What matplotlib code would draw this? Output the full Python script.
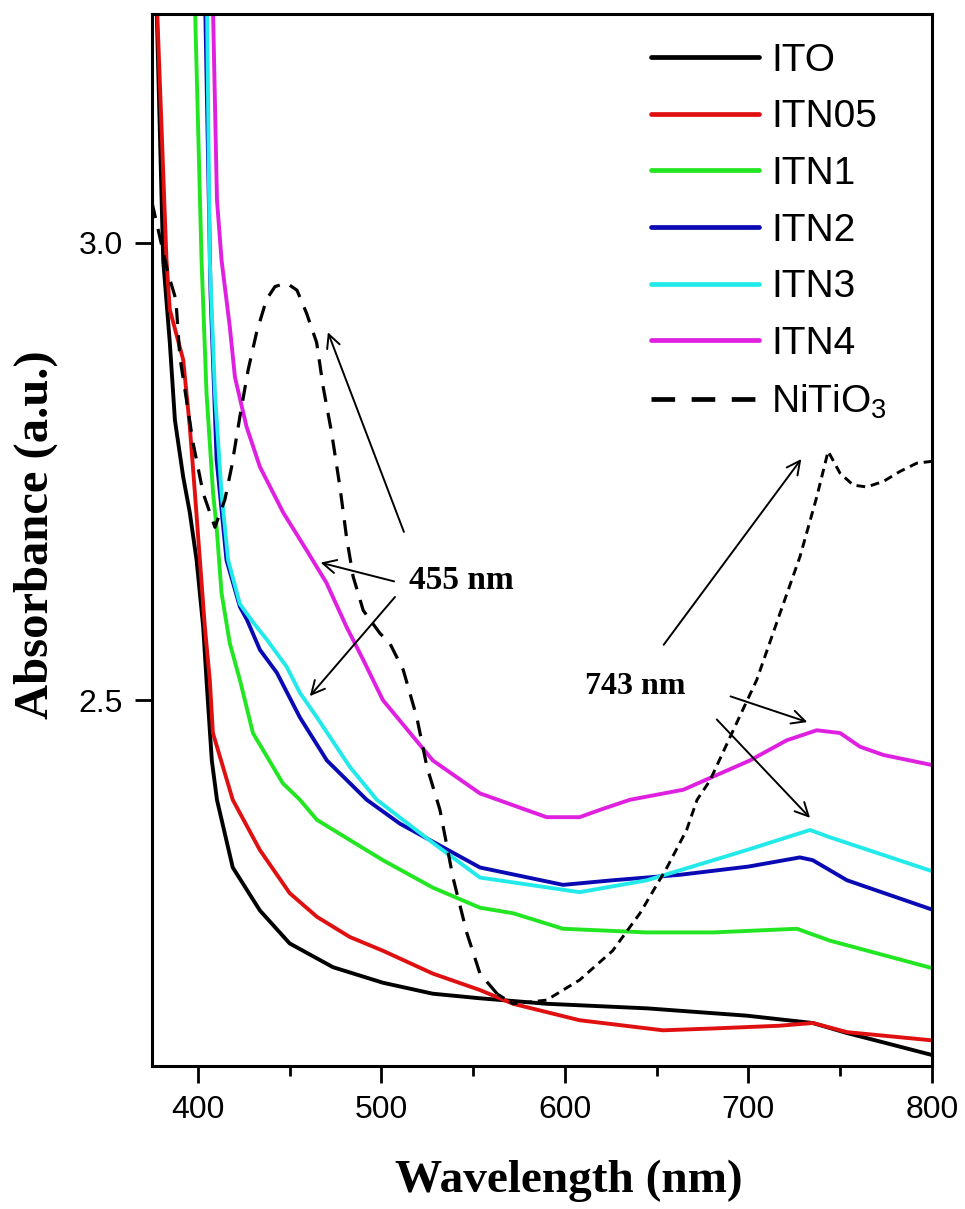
import matplotlib.pyplot as plt

plt.rcParams['font.family'] = ['Liberation Sans', 'DejaVu Sans']

# wavelength (nm) / absorbance
ito_x = [377.5, 381.1, 384.7, 387.5, 392.0, 395.6, 399.3, 402.9, 404.7, 407.6, 410.4, 419.0,
         433.8, 450.0, 473.6, 500.8, 528.0, 553.7, 590.0, 644.7, 699.0, 735.0, 753.7, 775.0, 800.0]
ito_y = [3.26, 2.981, 2.891, 2.806, 2.744, 2.705, 2.653, 2.580, 2.522, 2.434, 2.391, 2.317,
         2.270, 2.234, 2.208, 2.191, 2.179, 2.174, 2.168, 2.163, 2.155, 2.147, 2.136, 2.125, 2.112]

itn05_x = [377.7, 382.9, 384.7, 392.0, 395.6, 398.4, 401.1, 403.8, 406.5, 408.2, 419.0, 433.8,
           450.0, 464.9, 482.8, 500.8, 528.0, 553.7, 571.7, 608.0, 653.4, 680.7, 717.0, 735.0,
           753.7, 800.0]
itn05_y = [3.26, 2.981, 2.927, 2.872, 2.799, 2.726, 2.653, 2.580, 2.522, 2.464, 2.391, 2.336,
           2.289, 2.263, 2.241, 2.226, 2.201, 2.183, 2.168, 2.150, 2.139, 2.141, 2.144, 2.147,
           2.137, 2.128]

itn1_x = [398.4, 402.0, 404.7, 408.3, 410.2, 412.9, 417.4, 422.9, 430.0, 446.3, 455.6, 464.9,
          482.8, 500.8, 528.0, 553.7, 571.7, 599.0, 644.7, 680.7, 726.4, 744.4, 800.0]
itn1_y = [3.26, 2.981, 2.836, 2.726, 2.689, 2.617, 2.562, 2.522, 2.464, 2.409, 2.391, 2.369,
          2.347, 2.325, 2.295, 2.273, 2.267, 2.250, 2.246, 2.246, 2.250, 2.237, 2.207]

itn2_x = [404.0, 406.9, 410.2, 415.6, 422.9, 426.7, 433.8, 443.0, 455.6, 470.3, 492.0, 510.0,
          553.7, 599.0, 626.0, 662.7, 700.0, 728.0, 735.0, 753.7, 800.0]
itn2_y = [3.26, 2.945, 2.763, 2.653, 2.602, 2.588, 2.555, 2.530, 2.481, 2.434, 2.391, 2.365,
          2.317, 2.298, 2.303, 2.309, 2.318, 2.328, 2.325, 2.303, 2.271]

itn3_x = [405.0, 406.5, 409.3, 412.9, 416.5, 422.9, 430.1, 437.6, 448.5, 455.6, 464.9, 482.8,
          497.5, 528.0, 553.7, 608.0, 644.7, 699.0, 733.5, 744.4, 800.0]
itn3_y = [3.26, 2.981, 2.836, 2.726, 2.653, 2.605, 2.585, 2.566, 2.536, 2.508, 2.481, 2.427,
          2.391, 2.344, 2.306, 2.290, 2.303, 2.336, 2.358, 2.350, 2.313]

itn4_x = [408.2, 410.4, 412.9, 417.4, 420.2, 426.5, 433.8, 446.5, 459.2, 470.1, 481.0, 490.1,
          500.8, 528.0, 553.7, 590.0, 608.0, 619.1, 635.4, 664.5, 700.8, 720.8, 737.2, 749.9,
          760.8, 773.5, 800.0]
itn4_y = [3.26, 3.047, 2.981, 2.908, 2.853, 2.799, 2.755, 2.705, 2.664, 2.628, 2.580, 2.544,
          2.500, 2.434, 2.398, 2.372, 2.372, 2.380, 2.391, 2.402, 2.434, 2.456, 2.467, 2.464,
          2.449, 2.440, 2.429]

# NiTiO3 reference: long dashes up to the minimum, short dashes after it
nto_x1 = [375.0, 383.7, 388.0, 390.2, 393.8, 397.4, 402.9, 409.3, 414.7, 418.4, 422.9, 427.4,
          432.0, 437.4, 442.0, 448.3, 454.0, 459.2, 464.7, 468.3, 472.9, 477.4, 481.0, 484.6,
          490.1, 499.2, 504.6, 511.9, 519.3, 524.8, 531.9, 539.0, 546.6, 553.7, 563.0]
nto_y1 = [3.044, 2.967, 2.938, 2.875, 2.828, 2.781, 2.726, 2.689, 2.719, 2.755, 2.810, 2.861,
          2.902, 2.938, 2.952, 2.956, 2.948, 2.923, 2.891, 2.842, 2.792, 2.733, 2.678, 2.635,
          2.598, 2.573, 2.562, 2.533, 2.481, 2.427, 2.380, 2.306, 2.245, 2.201, 2.179]
nto_x2 = [563.0, 571.7, 590.0, 608.0, 626.0, 640.9, 655.6, 666.3, 672.0, 679.0, 691.7, 704.5,
          717.2, 728.1, 737.2, 743.4, 749.9, 757.1, 764.4, 773.5, 782.6, 791.7, 800.0]
nto_y2 = [2.179, 2.168, 2.172, 2.194, 2.226, 2.267, 2.317, 2.358, 2.391, 2.412, 2.467, 2.522,
          2.595, 2.657, 2.722, 2.772, 2.748, 2.735, 2.733, 2.739, 2.750, 2.759, 2.761]

series = [
    ("ITO", ito_x, ito_y, "#000000"),
    ("ITN05", itn05_x, itn05_y, "#e01010"),
    ("ITN1", itn1_x, itn1_y, "#22e622"),
    ("ITN2", itn2_x, itn2_y, "#0a0ab4"),
    ("ITN3", itn3_x, itn3_y, "#22eaea"),
    ("ITN4", itn4_x, itn4_y, "#e020e0"),
]

fig = plt.figure(figsize=(9.65, 12.09), dpi=100)
ax = fig.add_axes([0.1575, 0.1183, 0.8083, 0.8701])

for name, xs, ys, col in series:
    ax.plot(xs, ys, color=col, lw=2.8, label=name, solid_joinstyle='round')

ax.plot(nto_x1, nto_y1, color='black', lw=2.3, dashes=(5, 3.5), label="NiTiO$_\\mathregular{3}$")
ax.plot(nto_x2, nto_y2, color='black', lw=2.1, dashes=(3, 2))

ax.set_xlim(375, 800)
ax.set_ylim(2.10, 3.25)
ax.set_xticks([400, 500, 600, 700, 800])
ax.set_xticks([450, 550, 650, 750], minor=True)
ax.set_yticks([2.5, 3.0])
ax.set_yticklabels(["2.5", "3.0"])

for sp in ax.spines.values():
    sp.set_linewidth(2.2)
ax.tick_params(axis='both', which='major', direction='out', length=12, width=2,
               labelsize=23, pad=9)
ax.tick_params(axis='x', which='minor', direction='out', length=7, width=2)

ax.set_xlabel("Wavelength (nm)", family='Liberation Serif', weight='bold', fontsize=34)
ax.xaxis.set_label_coords(0.535, -0.089)
ax.set_ylabel("Absorbance (a.u.)", family='Liberation Serif', weight='bold', fontsize=35)
ax.yaxis.set_label_coords(-0.12, 0.505)

# annotations
ap = dict(arrowstyle='->', color='black', lw=1.4, mutation_scale=24)
ax.annotate("", xy=(470.3, 2.905), xytext=(512.8, 2.681), arrowprops=ap)
ax.annotate("", xy=(465.4, 2.651), xytext=(508.4, 2.629), arrowprops=ap)
ax.annotate("", xy=(460.0, 2.502), xytext=(508.4, 2.615), arrowprops=ap)
ax.text(543.5, 2.631, "455 nm", family='Liberation Serif', weight='bold', fontsize=24,
        ha='center', va='center')

ax.annotate("", xy=(729.7, 2.766), xytext=(652.9, 2.558), arrowprops=ap)
ax.annotate("", xy=(733.5, 2.475), xytext=(688.8, 2.505), arrowprops=ap)
ax.annotate("", xy=(734.6, 2.369), xytext=(681.7, 2.481), arrowprops=ap)
ax.text(638.5, 2.515, "743 nm", family='Liberation Serif', weight='bold', fontsize=23,
        ha='center', va='center')

leg = ax.legend(loc='upper right', frameon=False, fontsize=28, handlelength=2.8,
                handletextpad=0.3, labelspacing=0.53, borderaxespad=0.0,
                bbox_to_anchor=(0.962, 0.9875))
for h in leg.get_lines():
    h.set_linewidth(3.4)
    h.set_solid_capstyle('round')

fig.savefig("out.png", dpi=100)
